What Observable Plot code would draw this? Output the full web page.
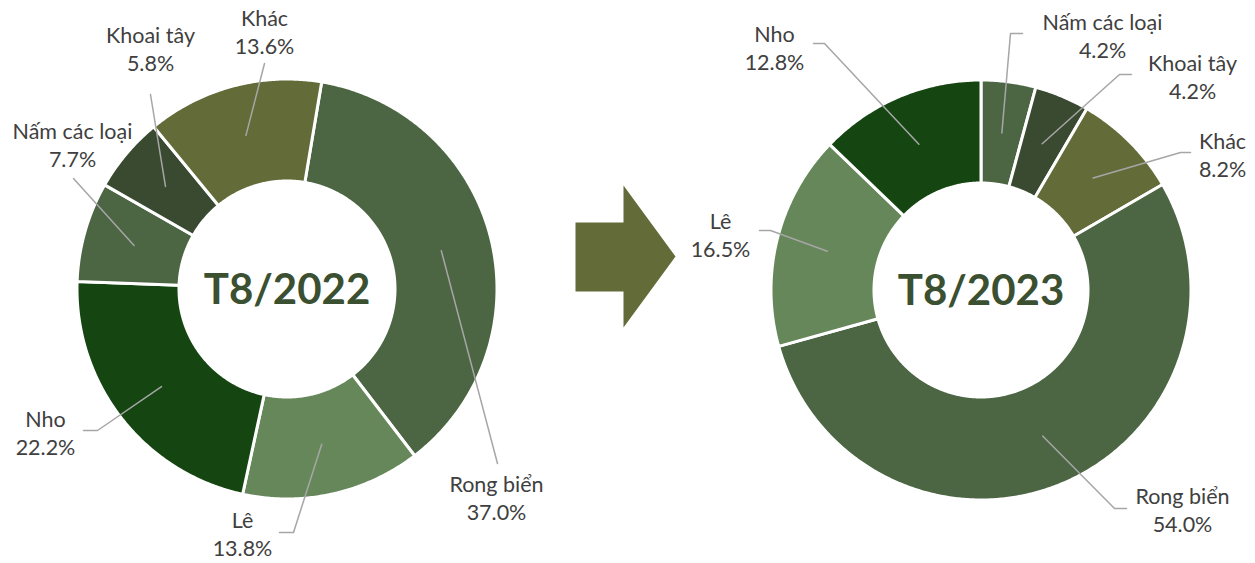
<!DOCTYPE html>
<html>
<head>
<meta charset="utf-8">
<script src="https://cdn.jsdelivr.net/npm/d3@7"></script>
<script src="https://cdn.jsdelivr.net/npm/@observablehq/plot@0.6"></script>
<style>
  html, body { margin: 0; padding: 0; background: #ffffff; }
  #chart { width: 1255px; height: 563px; }
</style>
</head>
<body>
<div id="chart"></div>
<script>
// ---------- DATA ----------
const categories2022 = ["Rong biển", "Lê", "Nho", "Nấm các loại", "Khoai tây", "Khác"];
const shares2022     = [37.0, 13.8, 22.2, 7.7, 5.8, 13.6];
const categories2023 = ["Nấm các loại", "Khoai tây", "Khác", "Rong biển", "Lê", "Nho"];
const shares2023     = [4.2, 4.2, 8.2, 54.0, 16.5, 12.8];
const centerTitles   = ["T8/2022", "T8/2023"];

// ---------- STYLE / LAYOUT (kept separate from data) ----------
const colorDomain = ["Rong biển", "Lê", "Nho", "Nấm các loại", "Khoai tây", "Khác"];
const colorRange  = ["#4c6644", "#66875a", "#154612", "#4c6644", "#3a4a30", "#636b38"];

const donutLayout = [
  { cx: 286.5, cy: 288.5, R: 210, r: 108, startDeg: 9.5 },
  { cx: 980.5, cy: 289.5, R: 210, r: 107, startDeg: 0 }
];

// label block centre and leader path (elbow points, from slice towards label)
const labelLayout = [
  {
    "Rong biển":    { x: 496,  y: 497,   path: [[497, 463]] },
    "Lê":           { x: 242,  y: 532.5, path: [[293, 532], [279, 532]] },
    "Nho":          { x: 45,   y: 432,   path: [[97, 430], [83, 430]] },
    "Nấm các loại": { x: 72,   y: 144,   path: [[73, 178]] },
    "Khoai tây":    { x: 150,  y: 47.5,  path: [[150, 94]] },
    "Khác":         { x: 264,  y: 30.5,  path: [[264, 63]] }
  },
  {
    "Nấm các loại": { x: 1102, y: 35,    path: [[1010, 33], [1022, 33]] },
    "Khoai tây":    { x: 1192, y: 76,    path: [[1119, 74], [1131, 74]] },
    "Khác":         { x: 1222, y: 153.5, path: [[1180, 152], [1190, 152]] },
    "Rong biển":    { x: 1182, y: 509,   path: [[1114, 508], [1126, 508]] },
    "Lê":           { x: 720,  y: 234,   path: [[770, 230], [759, 230]] },
    "Nho":          { x: 774,  y: 47,    path: [[824, 43], [813, 43]] }
  }
];

const arrowShape = [[575, 222], [623, 222], [623, 185], [675, 256], [623, 327], [623, 291], [575, 291]];

// ---------- BUILD ----------
const donuts = [
  { cats: categories2022, vals: shares2022, title: centerTitles[0] },
  { cats: categories2023, vals: shares2023, title: centerTitles[1] }
];

const slicePts = [];
const leaderPts = [];
const labels = [];
const titles = [];

donuts.forEach((d, i) => {
  const L = donutLayout[i];
  const a0 = L.startDeg * Math.PI / 180;
  const arcs = d3.pie().sort(null).value(v => v).startAngle(a0).endAngle(a0 + 2 * Math.PI)(d.vals);
  arcs.forEach((a, j) => {
    const key = `${i}-${j}`;
    const cat = d.cats[j];
    const n = Math.max(4, Math.ceil((a.endAngle - a.startAngle) / (Math.PI / 360)));
    const pt = (rad, ang) => ({ key, cat, x: L.cx + rad * Math.sin(ang), y: L.cy - rad * Math.cos(ang) });
    for (let k = 0; k <= n; k++) slicePts.push(pt(L.R, a.startAngle + (a.endAngle - a.startAngle) * k / n));
    for (let k = n; k >= 0; k--) slicePts.push(pt(L.r, a.startAngle + (a.endAngle - a.startAngle) * k / n));
    // leader line from slice middle to label
    const mid = (a.startAngle + a.endAngle) / 2;
    const rm = (L.R + L.r) / 2;
    const lab = labelLayout[i][cat];
    leaderPts.push({ key, x: L.cx + rm * Math.sin(mid), y: L.cy - rm * Math.cos(mid) });
    lab.path.forEach(p => leaderPts.push({ key, x: p[0], y: p[1] }));
    labels.push({ x: lab.x, y: lab.y, text: `${cat}\n${d.vals[j].toFixed(1)}%` });
  });
  titles.push({ x: L.cx, y: L.cy + 2, text: d.title });
});

const arrowPts = arrowShape.map(p => ({ x: p[0], y: p[1] }));

const chart = Plot.plot({
  width: 1255,
  height: 563,
  margin: 0,
  style: { background: "#ffffff", fontFamily: "Lato, 'Open Sans', sans-serif" },
  x: { domain: [0, 1255], range: [0, 1255], axis: null },
  y: { domain: [0, 563], range: [0, 563], axis: null },
  color: { domain: colorDomain, range: colorRange },
  marks: [
    Plot.line(slicePts, { x: "x", y: "y", z: "key", fill: "cat", stroke: "#ffffff", strokeWidth: 3, curve: "linear-closed" }),
    Plot.line(arrowPts, { x: "x", y: "y", fill: "#636b38", stroke: "none", curve: "linear-closed" }),
    Plot.line(leaderPts, { x: "x", y: "y", z: "key", stroke: "#a6a6a6", strokeWidth: 1.5 }),
    Plot.text(labels, { x: "x", y: "y", text: "text", fontSize: 21.5, lineHeight: 1.3, fill: "#404040", textAnchor: "middle", lineAnchor: "middle" }),
    Plot.text(titles, { x: "x", y: "y", text: "text", fontSize: 42, fontWeight: "bold", fill: "#3b5031", textAnchor: "middle", lineAnchor: "middle" })
  ]
});

document.getElementById("chart").appendChild(chart);
</script>
</body>
</html>
